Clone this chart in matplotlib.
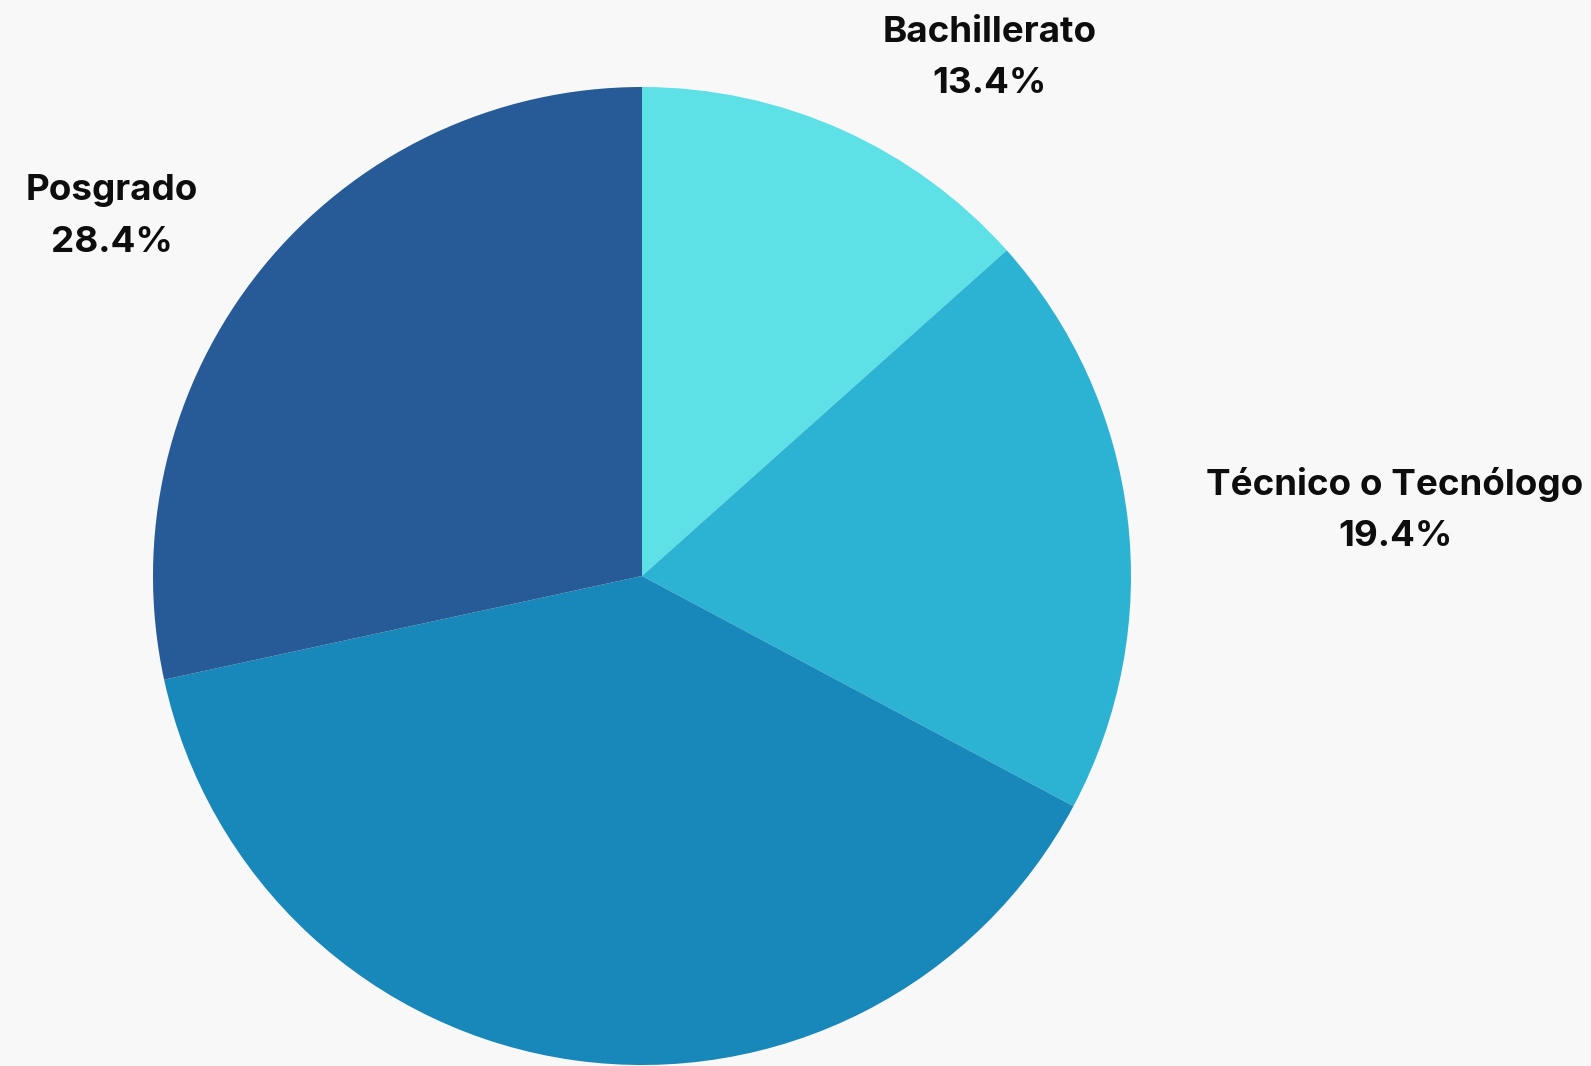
import matplotlib.pyplot as plt

# values (the bottom slice carries no label in the original)
categories = ['Bachillerato', 'Técnico o Tecnólogo', '', 'Posgrado']
shares = [13.4, 19.4, 38.8, 28.4]
colors = ['#5DE0E6', '#2CB3D4', '#1888BA', '#275B98']

# label anchor points (data units, pie radius = 1)
label_xy = [(0.71, 1.06), (1.54, 0.135), None, (-1.084, 0.735)]

plt.rcParams['font.family'] = ['Inter', 'DejaVu Sans']

fig = plt.figure(figsize=(15.91, 10.66), dpi=100)
fig.patch.set_facecolor('#f9f8f8')
ax = fig.add_axes([0, 0, 1, 1])
ax.set_facecolor('#f9f8f8')

ax.pie(shares, colors=colors, startangle=90, counterclock=False,
       radius=1.0, center=(0, 0), wedgeprops=dict(linewidth=0))

for name, val, xy in zip(categories, shares, label_xy):
    if not name:
        continue
    ax.text(xy[0], xy[1], f'{name}\n{val:.1f}%', ha='center', va='center',
            fontsize=26.5, fontweight='bold', color='#0d0d0d', linespacing=1.7)

ax.set_xlim(-642 / 489, (1591 - 642) / 489)
ax.set_ylim(-(1066 - 576) / 489, 576 / 489)
ax.set_aspect('auto')
ax.axis('off')

plt.savefig('out.png', dpi=100, facecolor=fig.get_facecolor())
